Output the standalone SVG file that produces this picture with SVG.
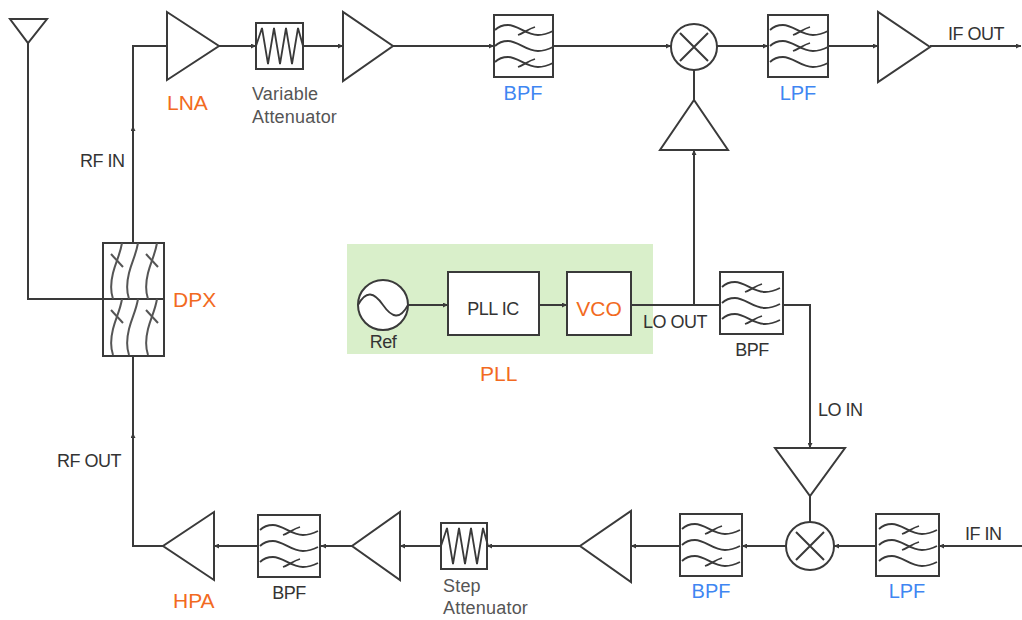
<svg xmlns="http://www.w3.org/2000/svg" width="1022" height="620" viewBox="0 0 1022 620">
<style>
.ln{fill:none;stroke:#3a3a3a;stroke-width:2}
.box{fill:#fff;stroke:#3a3a3a;stroke-width:2}
.wv{fill:none;stroke:#3a3a3a;stroke-width:1.8}
.dw{fill:none;stroke:#555;stroke-width:2}
.t{font-family:"Liberation Sans",Arial,sans-serif;font-size:18px;fill:#333;letter-spacing:-0.5px}
.g{fill:#555;letter-spacing:0.2px}
.o{font-family:"Liberation Sans",Arial,sans-serif;font-size:21px;fill:#f26a21}
.b{font-family:"Liberation Sans",Arial,sans-serif;font-size:20px;fill:#3f86f2}
.m{text-anchor:middle}
</style>
<defs>
<marker id="ah" viewBox="0 0 10 10" refX="10" refY="5" markerWidth="6" markerHeight="5" orient="auto" markerUnits="userSpaceOnUse">
<path d="M0,0 L10,5 L0,10 z" fill="#3a3a3a"/>
</marker>
<path id="wave" d="M1,0 C5,-4 9,-5 14,-5 C24,-5 32,5 44,5 C50,5 55,3 59,1"/>
<path id="cross" d="M24,5 C30,3 34,-1 41,-3"/>
<g id="bpfw" class="wv">
<use href="#wave" y="15"/><use href="#cross" y="15"/>
<use href="#wave" y="31"/>
<use href="#wave" y="47"/><use href="#cross" y="47"/>
</g>
<g id="lpfw" class="wv">
<use href="#wave" y="15"/><use href="#cross" y="15"/>
<use href="#wave" y="31"/><use href="#cross" y="31"/>
<use href="#wave" y="47"/>
</g>
<path id="vw" d="M0,0 C-2,12 -6,18 -9,30 S-11,50 -9,56"/>
<path id="vc" d="M-11,11 L1,24"/>
<g id="dpxw" class="dw">
<use href="#vw" x="19"/><use href="#vc" x="19"/>
<use href="#vw" x="35"/>
<use href="#vw" x="54"/><use href="#vc" x="54"/>
</g>
<path id="zig" d="M0,23 L6,5 L12,41 L18,5 L24,41 L30,5 L36,41 L42,5 L47,23"/>
</defs>

<rect id="pll-bg" x="347" y="244" width="306" height="110" fill="#d9efca"/>

<g id="connectors">
<polyline class="ln" points="28,43 28,299 103,299"/>
<line class="ln" x1="133" y1="243" x2="133" y2="126" marker-end="url(#ah)"/>
<polyline class="ln" points="133,126 133,46 167,46"/>
<line class="ln" x1="219" y1="46" x2="256" y2="46" marker-end="url(#ah)"/>
<line class="ln" x1="303" y1="46" x2="343" y2="46" marker-end="url(#ah)"/>
<line class="ln" x1="393" y1="46" x2="494" y2="46" marker-end="url(#ah)"/>
<line class="ln" x1="553" y1="46" x2="671" y2="46" marker-end="url(#ah)"/>
<line class="ln" x1="717" y1="46" x2="768" y2="46" marker-end="url(#ah)"/>
<line class="ln" x1="828" y1="46" x2="878" y2="46" marker-end="url(#ah)"/>
<line class="ln" x1="930" y1="46" x2="1021" y2="46" marker-end="url(#ah)"/>
<line class="ln" x1="694" y1="70" x2="694" y2="100"/>
<line class="ln" x1="694" y1="305" x2="694" y2="150" marker-end="url(#ah)"/>
<line class="ln" x1="408" y1="305" x2="448" y2="305" marker-end="url(#ah)"/>
<line class="ln" x1="539" y1="305" x2="567" y2="305" marker-end="url(#ah)"/>
<line class="ln" x1="631" y1="305" x2="720" y2="305"/>
<polyline class="ln" points="783,305 810,305 810,448" marker-end="url(#ah)"/>
<line class="ln" x1="810" y1="496" x2="810" y2="522"/>
<line class="ln" x1="1022" y1="546" x2="939" y2="546" marker-end="url(#ah)"/>
<line class="ln" x1="876" y1="546" x2="834" y2="546" marker-end="url(#ah)"/>
<line class="ln" x1="786" y1="546" x2="742" y2="546" marker-end="url(#ah)"/>
<line class="ln" x1="680" y1="546" x2="631" y2="546" marker-end="url(#ah)"/>
<line class="ln" x1="580" y1="546" x2="487" y2="546" marker-end="url(#ah)"/>
<line class="ln" x1="441" y1="546" x2="400" y2="546" marker-end="url(#ah)"/>
<line class="ln" x1="352" y1="546" x2="321" y2="546" marker-end="url(#ah)"/>
<line class="ln" x1="258" y1="546" x2="214" y2="546" marker-end="url(#ah)"/>
<polyline class="ln" points="163,546 133,546 133,433" marker-end="url(#ah)"/>
<line class="ln" x1="133" y1="433" x2="133" y2="356"/>
</g>

<g id="antenna"><polygon class="box" points="10,19 47,19 28,43"/></g>

<g id="dpx">
<rect class="box" x="103" y="243" width="61" height="113"/>
<line class="ln" x1="103" y1="299" x2="164" y2="299"/>
<use href="#dpxw" x="103" y="243"/>
<use href="#dpxw" x="103" y="299"/>
<text class="o" x="173" y="307">DPX</text>
</g>

<g id="lna">
<polygon class="box" points="167,12 167,80 219,46"/>
<text class="o" x="167" y="110">LNA</text>
</g>

<g id="var-att">
<rect class="box" x="256" y="23" width="47" height="46"/>
<use href="#zig" x="256" y="23" class="wv"/>
<text class="t g" x="252" y="100">Variable</text>
<text class="t g" x="252" y="123">Attenuator</text>
</g>

<g id="amp1"><polygon class="box" points="343,12 343,81 393,46"/></g>

<g id="bpf-top">
<rect class="box" x="494" y="15" width="59" height="62"/>
<use href="#bpfw" x="494" y="15"/>
<text class="b m" x="523" y="100">BPF</text>
</g>

<g id="mixer-top">
<circle class="box" cx="694" cy="47" r="23"/>
<path class="ln" d="M680,33 L708,61 M708,33 L680,61"/>
</g>

<g id="lo-amp-top"><polygon class="box" points="660,150 728,150 694,100"/></g>

<g id="lpf-top">
<rect class="box" x="768" y="15" width="60" height="62"/>
<use href="#lpfw" x="769" y="15"/>
<text class="b m" x="798" y="100">LPF</text>
</g>

<g id="if-amp"><polygon class="box" points="878,12 878,82 930,47"/></g>
<text class="t" x="948" y="40">IF OUT</text>
<text class="t" x="80" y="167">RF IN</text>
<text class="t" x="57" y="467">RF OUT</text>

<g id="ref">
<circle class="box" cx="383" cy="305" r="25"/>
<path class="wv" d="M358,305 C366,290 374,292 383,305 C392,318 400,320 408,305"/>
<text class="t m" x="383" y="348">Ref</text>
</g>

<g id="pll-ic">
<rect class="box" x="448" y="272" width="91" height="63"/>
<text class="t m" x="493" y="315">PLL IC</text>
</g>

<g id="vco">
<rect class="box" x="567" y="272" width="64" height="63"/>
<text class="o m" x="599" y="316">VCO</text>
</g>
<text class="o" x="480" y="381">PLL</text>
<text class="t" x="643" y="328">LO OUT</text>

<g id="bpf-lo">
<rect class="box" x="720" y="272" width="63" height="62"/>
<use href="#bpfw" x="721" y="272"/>
<text class="t m" x="752" y="356">BPF</text>
</g>
<text class="t" x="818" y="416">LO IN</text>

<g id="lo-amp-bot"><polygon class="box" points="775,448 845,448 810,496"/></g>

<g id="mixer-bot">
<circle class="box" cx="810" cy="546" r="24"/>
<path class="ln" d="M796,532 L824,560 M824,532 L796,560"/>
</g>

<g id="lpf-bot">
<rect class="box" x="876" y="514" width="63" height="62"/>
<use href="#lpfw" x="878" y="514"/>
<text class="b m" x="907" y="598">LPF</text>
</g>
<text class="t" x="965" y="540">IF IN</text>

<g id="bpf-bot">
<rect class="box" x="680" y="514" width="62" height="62"/>
<use href="#bpfw" x="681" y="514"/>
<text class="b m" x="711" y="598">BPF</text>
</g>

<g id="amp-bot1"><polygon class="box" points="631,511 631,582 580,546"/></g>

<g id="step-att">
<rect class="box" x="441" y="523" width="46" height="46"/>
<use href="#zig" x="441" y="523" class="wv"/>
<text class="t g" x="443" y="592">Step</text>
<text class="t g" x="443" y="614">Attenuator</text>
</g>

<g id="amp-bot2"><polygon class="box" points="400,512 400,580 352,546"/></g>

<g id="bpf-bot2">
<rect class="box" x="258" y="515" width="62" height="62"/>
<use href="#bpfw" x="259" y="515"/>
<text class="t m" x="289" y="599">BPF</text>
</g>

<g id="hpa">
<polygon class="box" points="214,512 214,580 163,546"/>
<text class="o" x="173" y="608">HPA</text>
</g>
</svg>
